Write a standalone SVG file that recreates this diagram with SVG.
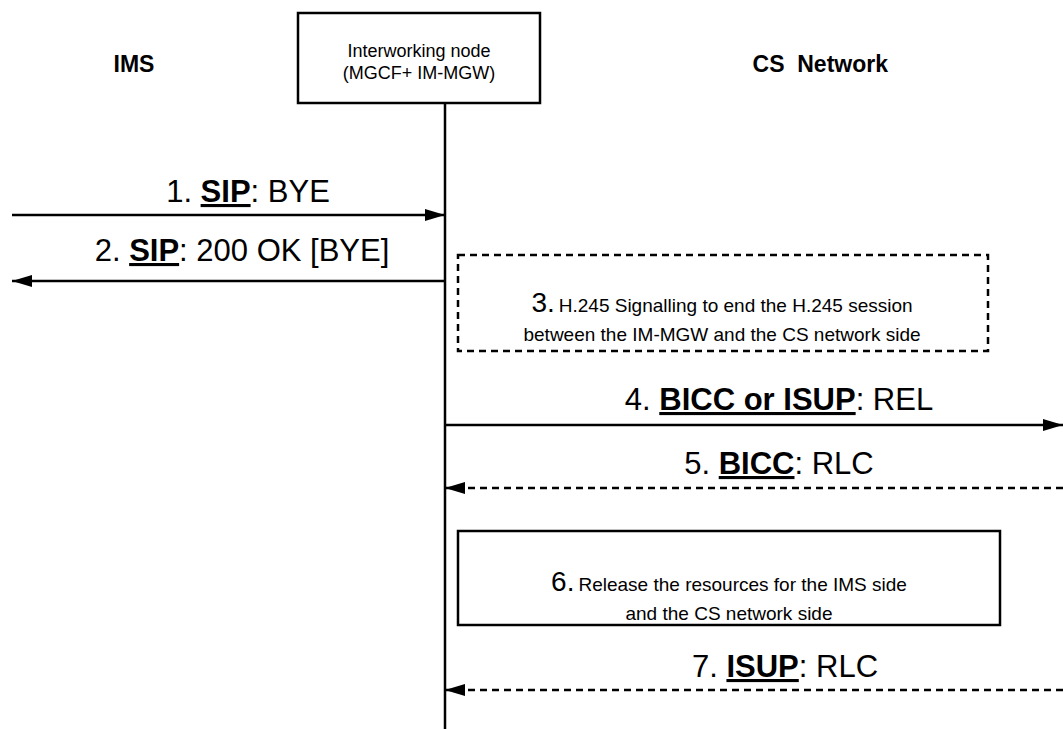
<svg xmlns="http://www.w3.org/2000/svg" width="1063" height="729" viewBox="0 0 1063 729">
<style>
text{font-family:"Liberation Sans",Arial,sans-serif;fill:#000}
.hdr{font-size:23px;font-weight:bold}
.msg{font-size:31px}
.b{font-weight:bold;text-decoration:underline}
.box{font-size:19px}
.num{font-size:28px}
.ln{stroke:#000;stroke-width:2.5;fill:none}
.dash{stroke-dasharray:7,5}
</style>
<defs>
<marker id="ahL" markerWidth="20" markerHeight="12" refX="20" refY="6" orient="auto" markerUnits="userSpaceOnUse"><path d="M0,0 L20,6 L0,12 Z" fill="#000"/></marker>
</defs>
<g id="ims"><text class="hdr" x="134" y="72" text-anchor="middle">IMS</text></g>
<g id="cs"><text class="hdr" x="888" y="72" text-anchor="end" xml:space="preserve">CS  Network</text></g>
<g id="iwn">
<rect x="298" y="13" width="242" height="90" fill="#fff" stroke="#000" stroke-width="2.5"/>
<text x="419" y="57" font-size="18" text-anchor="middle">Interworking node</text>
<text x="419" y="79" font-size="18" text-anchor="middle">(MGCF+ IM-MGW)</text>
<line class="ln" x1="445" y1="103" x2="445" y2="729"/>
</g>
<g id="step3">
<rect x="458" y="255" width="530" height="96" fill="none" stroke="#000" stroke-width="2.5" stroke-dasharray="7,5"/>
<text x="722" y="312" text-anchor="middle"><tspan class="num">3.</tspan><tspan class="box" dx="4">H.245 Signalling to end the H.245 session</tspan></text>
<text class="box" x="722" y="341" text-anchor="middle">between the IM-MGW and the CS network side</text>
</g>
<g id="step6">
<rect x="458" y="531" width="542" height="94" fill="none" stroke="#000" stroke-width="2.5"/>
<text x="729" y="591" text-anchor="middle"><tspan class="num">6.</tspan><tspan class="box" dx="4">Release the resources for the IMS side</tspan></text>
<text class="box" x="729" y="620" text-anchor="middle">and the CS network side</text>
</g>
<g id="connectors">
<line class="ln" x1="12" y1="215" x2="445" y2="215" marker-end="url(#ahL)"/>
<text class="msg" x="248" y="202" text-anchor="middle">1. <tspan class="b">SIP</tspan>: BYE</text>
<line class="ln" x1="445" y1="281" x2="12" y2="281" marker-end="url(#ahL)"/>
<text class="msg" x="242" y="261" text-anchor="middle">2. <tspan class="b">SIP</tspan>: 200 OK [BYE]</text>
<line class="ln" x1="445" y1="425" x2="1063" y2="425" marker-end="url(#ahL)"/>
<text class="msg" x="779" y="410" text-anchor="middle">4. <tspan class="b">BICC or ISUP</tspan>: REL</text>
<line class="ln dash" x1="1063" y1="488" x2="445" y2="488" marker-end="url(#ahL)"/>
<text class="msg" x="779" y="474" text-anchor="middle">5. <tspan class="b">BICC</tspan>: RLC</text>
<line class="ln dash" x1="1063" y1="690" x2="445" y2="690" marker-end="url(#ahL)"/>
<text class="msg" x="785" y="677" text-anchor="middle">7. <tspan class="b">ISUP</tspan>: RLC</text>
</g>
</svg>
